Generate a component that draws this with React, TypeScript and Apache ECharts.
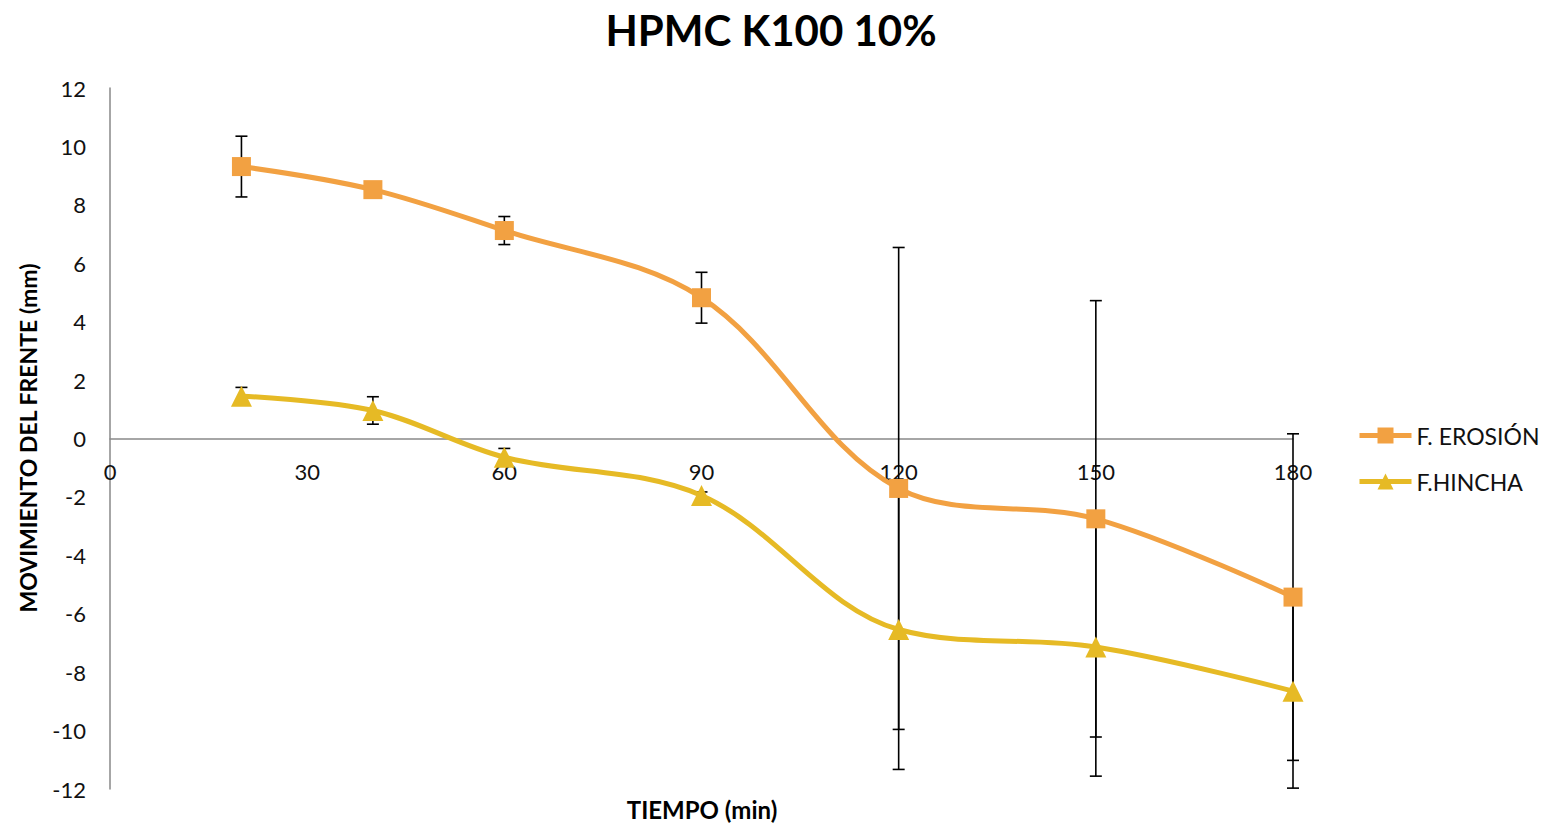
import React, { useEffect, useRef } from "react";
import * as echarts from "echarts";

const times = [20, 40, 60, 90, 120, 150, 180];
const erosion = [9.31, 8.52, 7.12, 4.82, -1.71, -2.75, -5.43];
const erosionErr = [1.04, 0.25, 0.48, 0.87, 8.25, 7.47, 5.59];
const hincha = [1.45, 0.96, -0.64, -1.95, -6.54, -7.14, -8.65];
const hinchaErr = [0.3, 0.47, 0.3, 0.12, 4.79, 4.42, 3.32];
const xTicks = [0, 30, 60, 90, 120, 150, 180];

const FONT = "Lato, 'Open Sans', sans-serif";
const GRID = { left: 110, right: 252, top: 88, bottom: 37 };
const H = 826;
const PLOT_H = H - GRID.top - GRID.bottom;

function errSeries(vals: number[], errs: number[]) {
  return {
    type: "custom",
    z: 1,
    silent: true,
    data: times.map((t, i) => [t, vals[i], errs[i]]),
    renderItem: (params: any, api: any) => {
      const x = api.value(0);
      const y = api.value(1);
      const e = api.value(2);
      const top = api.coord([x, y + e]);
      const bot = api.coord([x, y - e]);
      const w = 6;
      const st = { stroke: "#000", lineWidth: 1.6 };
      return {
        type: "group",
        children: [
          { type: "line", shape: { x1: top[0], y1: top[1], x2: bot[0], y2: bot[1] }, style: st },
          { type: "line", shape: { x1: top[0] - w, y1: top[1], x2: top[0] + w, y2: top[1] }, style: st },
          { type: "line", shape: { x1: bot[0] - w, y1: bot[1], x2: bot[0] + w, y2: bot[1] }, style: st },
        ],
      };
    },
  };
}

export default function App() {
  const ref = useRef<HTMLDivElement>(null);
  useEffect(() => {
    const chart = echarts.init(ref.current!, undefined, { renderer: "svg" });
    chart.setOption({
      animation: false,
      backgroundColor: "#fff",
      title: {
        text: "HPMC K100 10%",
        left: 766,
        textAlign: "center",
        top: 4,
        textStyle: { fontFamily: FONT, fontWeight: "bold", fontSize: 42, color: "#000" },
      },
      legend: {
        orient: "vertical",
        left: 1352,
        top: 419,
        itemWidth: 52,
        itemHeight: 20,
        itemGap: 23,
        textStyle: { fontFamily: FONT, fontSize: 23, color: "#111" },
        lineStyle: { width: 5 },
        data: ["F. EROSIÓN", "F.HINCHA"],
      },
      graphic: [
        {
          type: "text",
          x: 702,
          y: 809,
          style: {
            text: "TIEMPO (min)",
            x: 0,
            y: 0,
            align: "center",
            verticalAlign: "middle",
            font: `bold 24px ${FONT}`,
            fill: "#000",
          },
        },
        {
          type: "text",
          x: 28,
          y: 438,
          rotation: Math.PI / 2,
          style: {
            text: "MOVIMIENTO DEL FRENTE (mm)",
            x: 0,
            y: 0,
            align: "center",
            verticalAlign: "middle",
            font: `bold 23px ${FONT}`,
            fill: "#000",
          },
        },
      ],
      grid: { ...GRID, containLabel: false, outerBoundsMode: "none" },
      xAxis: {
        type: "value",
        min: 0,
        max: 180,
        interval: 30,
        offset: -PLOT_H / 2,
        axisLine: { onZero: false, lineStyle: { color: "#898989", width: 1.5 } },
        axisTick: { show: false },
        splitLine: { show: false },
        axisLabel: {
          fontFamily: FONT,
          fontSize: 22,
          color: "#111",
          margin: 22,
          formatter: (v: number) => (xTicks.includes(v) ? String(v) : ""),
        },
      },
      yAxis: {
        type: "value",
        min: -12,
        max: 12,
        interval: 2,
        axisLine: { show: true, onZero: false, lineStyle: { color: "#898989", width: 1.5 } },
        axisTick: { show: false },
        splitLine: { show: false },
        axisLabel: { fontFamily: FONT, fontSize: 22, color: "#111", margin: 24 },
      },
      series: [
        {
          name: "F. EROSIÓN",
          type: "line",
          z: 3,
          smooth: 0.35,
          data: times.map((t, i) => [t, erosion[i]]),
          symbol: "rect",
          symbolSize: 19,
          itemStyle: { color: "#F2A142" },
          lineStyle: { color: "#F2A142", width: 5 },
        },
        {
          name: "F.HINCHA",
          type: "line",
          z: 2,
          smooth: 0.35,
          data: times.map((t, i) => [t, hincha[i]]),
          symbol: "triangle",
          symbolSize: 21,
          itemStyle: { color: "#E6BA25" },
          lineStyle: { color: "#E6BA25", width: 5 },
        },
        errSeries(erosion, erosionErr),
        errSeries(hincha, hinchaErr),
      ],
    });
    return () => chart.dispose();
  }, []);
  return <div ref={ref} style={{ position: "fixed", left: 0, top: 0, width: 1545, height: 826 }} />;
}
